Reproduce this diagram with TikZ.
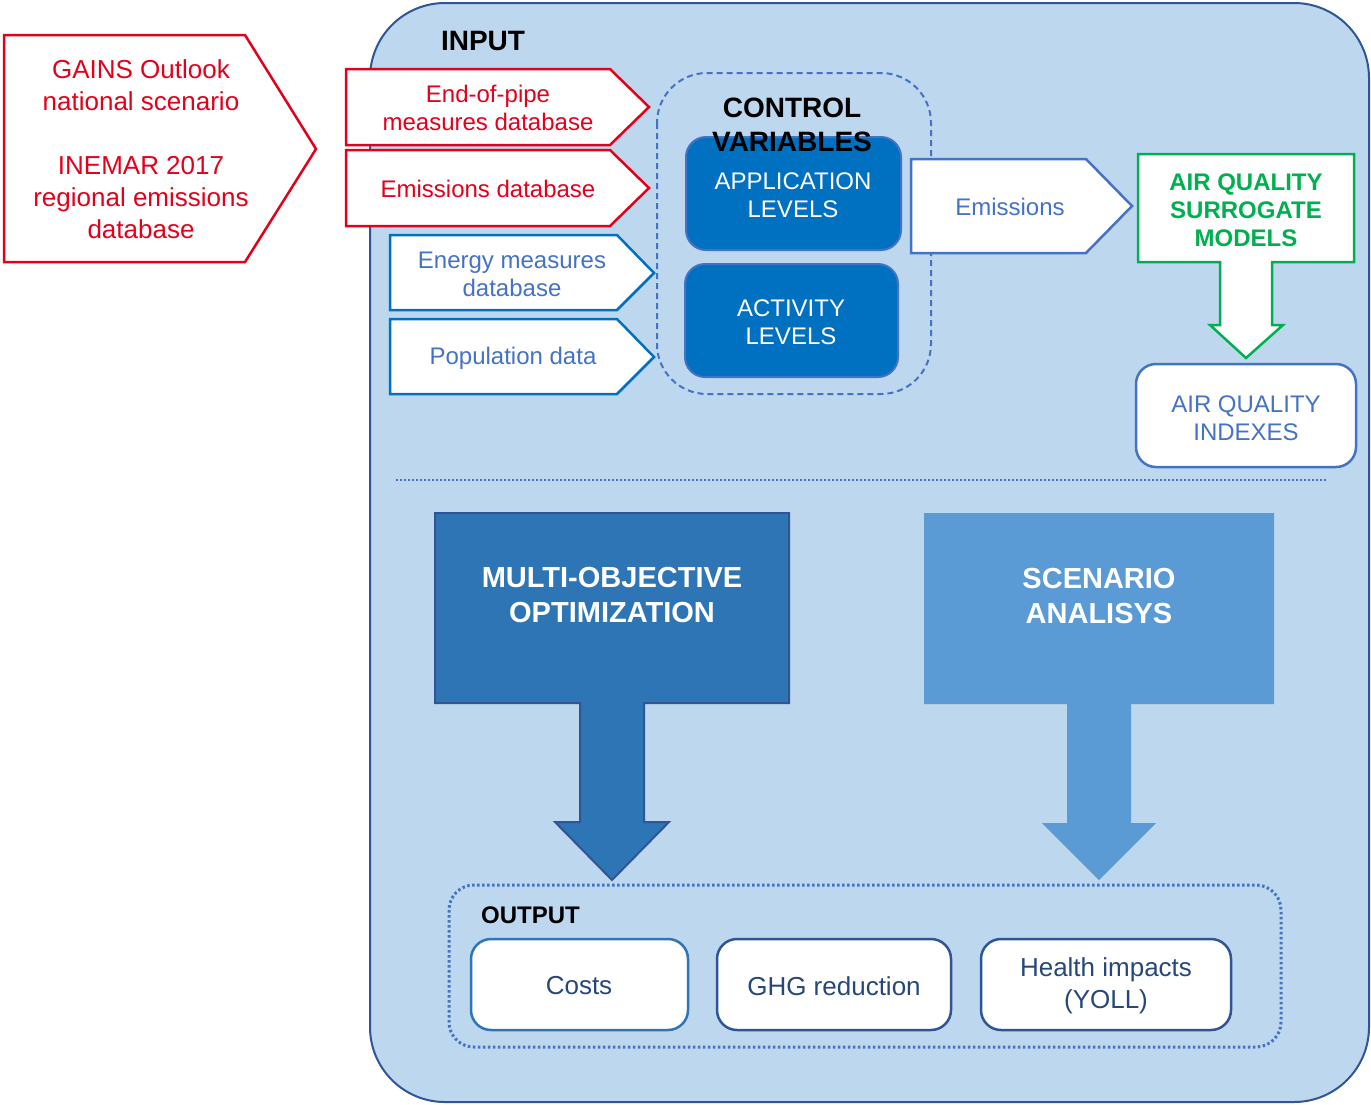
\documentclass[tikz,border=0pt]{standalone}
\usepackage{fontspec}
\setmainfont{Liberation Sans}
\definecolor{panelfill}{HTML}{BDD7EE}
\definecolor{panelline}{HTML}{2F5597}
\definecolor{srcred}{HTML}{E3001B}
\definecolor{srcblue}{HTML}{0070C0}
\definecolor{midblue}{HTML}{4472C4}
\definecolor{ctrlfill}{HTML}{0070C0}
\definecolor{aqgreen}{HTML}{00B050}
\definecolor{mofill}{HTML}{2E75B6}
\definecolor{scfill}{HTML}{5B9BD5}
\definecolor{outtext}{HTML}{27477A}
\begin{document}
\begin{tikzpicture}[x=1pt,y=-1pt,
  txt/.style={align=center,inner sep=0pt,font=\fontsize{24}{28}\selectfont},
  redshape/.style={draw=srcred,fill=white,line width=2.5pt,line join=miter},
  blueshape/.style={draw=srcblue,fill=white,line width=2.5pt,line join=miter},
  ctrlbox/.style={draw=midblue,fill=ctrlfill,line width=2pt,rounded corners=20pt},
  whitebox/.style={fill=white,line width=2.5pt,rounded corners=20pt},
]
\useasboundingbox (0,0) rectangle (1371,1104);

% main panel
\draw[fill=panelfill,draw=panelline,line width=2pt,rounded corners=75pt]
  (370,3) rectangle (1369,1102);
\node[txt,font=\fontsize{28}{34}\selectfont\bfseries] (input) at (483,41) {INPUT};

% external source
\draw[redshape] (4,35) -- (245,35) -- (316,149) -- (245,262) -- (4,262) -- cycle;
\node[txt,text=srcred,font=\fontsize{26}{32}\selectfont] (gains) at (141,149)
  {GAINS Outlook\\national scenario\\[32pt]INEMAR 2017\\regional emissions\\database};

% input databases
\draw[redshape] (346,69) -- (610,69) -- (649,107) -- (610,145) -- (346,145) -- cycle;
\node[txt,text=srcred] (eop) at (488,108) {End-of-pipe\\measures database};
\draw[redshape] (346,150) -- (610,150) -- (649,188) -- (610,226) -- (346,226) -- cycle;
\node[txt,text=srcred] (emdb) at (488,189) {Emissions database};
\draw[blueshape] (390,235) -- (617,235) -- (654,273) -- (617,310) -- (390,310) -- cycle;
\node[txt,text=midblue] (energy) at (512,274) {Energy measures\\database};
\draw[blueshape] (390,319) -- (617,319) -- (654,357) -- (617,394) -- (390,394) -- cycle;
\node[txt,text=midblue] (pop) at (513,358) {Population data};

% control variables
\draw[draw=midblue,line width=2pt,dash pattern=on 6pt off 4pt,rounded corners=50pt]
  (657,73) rectangle (931,394);
\draw[ctrlbox] (686,137) rectangle (901,250);
\draw[ctrlbox] (685,264) rectangle (898,377);
\node[txt,text=white] (app) at (793,195) {APPLICATION\\LEVELS};
\node[txt,text=white] (act) at (791,322) {ACTIVITY\\LEVELS};
\node[txt,font=\fontsize{28}{34}\selectfont\bfseries] (ctrl) at (792,125) {CONTROL\\VARIABLES};

% emissions and air quality chain
\draw[draw=midblue,fill=white,line width=2.5pt,line join=miter]
  (911,159) -- (1086,159) -- (1132,206) -- (1086,253) -- (911,253) -- cycle;
\node[txt,text=midblue] (emis) at (1010,207) {Emissions};
\draw[draw=aqgreen,fill=white,line width=2.5pt,line join=miter]
  (1138,154) -- (1354,154) -- (1354,262) -- (1272,262) -- (1272,325) -- (1283,325)
  -- (1246,358) -- (1210,325) -- (1220,325) -- (1220,262) -- (1138,262) -- cycle;
\node[txt,text=aqgreen,font=\fontsize{24}{28}\selectfont\bfseries] (aqsm) at (1246,210)
  {AIR QUALITY\\SURROGATE\\MODELS};
\draw[whitebox,draw=midblue] (1136,364) rectangle (1356,467);
\node[txt,text=midblue] (aqi) at (1246,418) {AIR QUALITY\\INDEXES};

% separator
\draw[draw=midblue,line width=2pt,dash pattern=on 2pt off 2pt] (396,480) -- (1326,480);

% analysis blocks
\draw[fill=mofill,draw=panelline,line width=2pt,line join=miter]
  (435,513) -- (789,513) -- (789,703) -- (644,703) -- (644,822) -- (669,822)
  -- (612,880) -- (555,822) -- (580,822) -- (580,703) -- (435,703) -- cycle;
\node[txt,text=white,font=\fontsize{29}{35}\selectfont\bfseries] (moo) at (612,595)
  {MULTI-OBJECTIVE\\OPTIMIZATION};
\fill[scfill]
  (924,513) -- (1274,513) -- (1274,704) -- (1131,704) -- (1131,823) -- (1156,823)
  -- (1099,880) -- (1042,823) -- (1067,823) -- (1067,704) -- (924,704) -- cycle;
\node[txt,text=white,font=\fontsize{29}{35}\selectfont\bfseries] (scen) at (1099,596)
  {SCENARIO\\ANALISYS};

% output
\draw[draw=midblue,line width=3pt,dash pattern=on 2.5pt off 2.5pt,rounded corners=25pt]
  (449,885) rectangle (1281,1047);
\node[txt,anchor=west,font=\fontsize{24}{28}\selectfont\bfseries] (outlbl) at (481,915) {OUTPUT};
\draw[whitebox,draw=mofill] (471,939) rectangle (688,1030);
\draw[whitebox,draw=panelline] (717,939) rectangle (951,1030);
\draw[whitebox,draw=panelline] (981,939) rectangle (1231,1030);
\node[txt,text=outtext,font=\fontsize{26}{32}\selectfont] (costs) at (579,986) {Costs};
\node[txt,text=outtext,font=\fontsize{26}{32}\selectfont] (ghg) at (834,986) {GHG reduction};
\node[txt,text=outtext,font=\fontsize{26}{32}\selectfont] (health) at (1106,986)
  {Health impacts\\(YOLL)};
\end{tikzpicture}
\end{document}
